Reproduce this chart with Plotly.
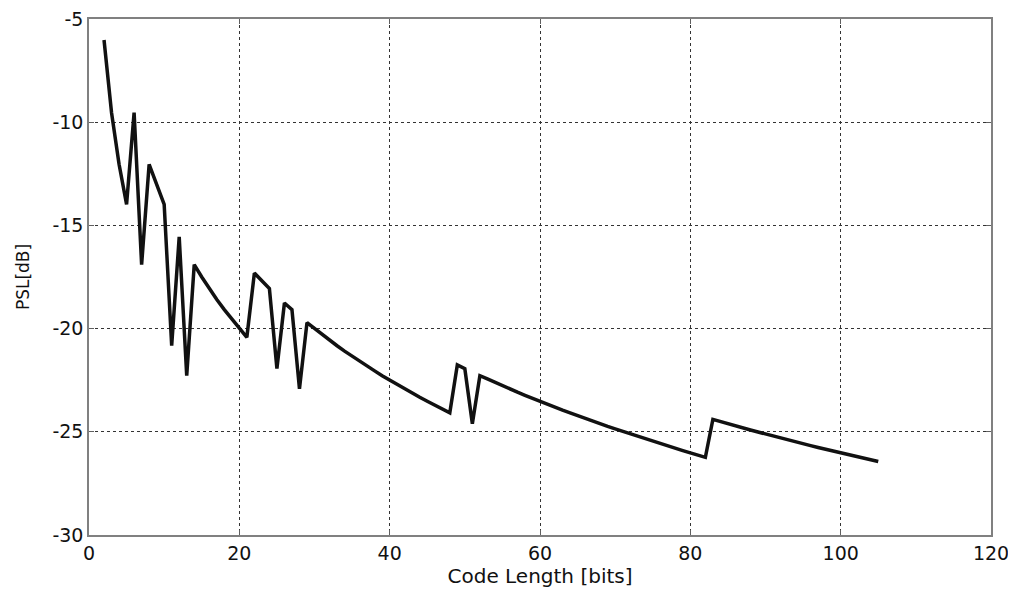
import plotly.graph_objects as go

code_length = list(range(2, 106))
psl_db = [
    -6.02, -9.54, -12.04, -13.98, -9.54, -16.90, -12.04, -13.06, -13.98, -20.83,
    -15.56, -22.28, -16.90, -17.50, -18.06, -18.59, -19.08, -19.55, -20.00, -20.42,
    -17.31, -17.69, -18.06, -21.94, -18.76, -19.08, -22.92, -19.71, -20.00, -20.28,
    -20.56, -20.83, -21.09, -21.34, -21.58, -21.82, -22.05, -22.28, -22.50, -22.71,
    -22.92, -23.13, -23.33, -23.52, -23.71, -23.90, -24.08, -21.76, -21.94, -24.61,
    -22.28, -22.44, -22.61, -22.77, -22.92, -23.08, -23.23, -23.38, -23.52, -23.67,
    -23.81, -23.95, -24.08, -24.22, -24.35, -24.48, -24.61, -24.74, -24.86, -24.98,
    -25.11, -25.23, -25.34, -25.46, -25.58, -25.69, -25.80, -25.91, -26.02, -26.13,
    -26.24, -24.40, -24.51, -24.61, -24.71, -24.81, -24.91, -25.01, -25.11, -25.20,
    -25.30, -25.39, -25.48, -25.58, -25.67, -25.76, -25.85, -25.93, -26.02, -26.11,
    -26.19, -26.28, -26.36, -26.44,
]
x_ticks = [0, 20, 40, 60, 80, 100, 120]
x_labels = ["0", "20", "40", "60", "80", "100", "120"]
y_ticks = [-30, -25, -20, -15, -10, -5]
y_labels = ["-30", "-25", "-20", "-15", "-10", "-5"]

font_main = "DejaVu Sans, Verdana, Arial"

fig = go.Figure()
fig.add_trace(go.Scatter(x=code_length, y=psl_db, mode="lines",
                         line=dict(color="#111111", width=3.5), showlegend=False))

axis_common = dict(
    showline=True, linecolor="#808080", linewidth=1.5, mirror="ticks",
    ticks="inside", ticklen=5, tickcolor="#606060",
    showgrid=True, gridcolor="#333333", gridwidth=1, griddash="dot",
    zeroline=False, automargin=False, ticklabeloverflow="allow",
    tickfont=dict(family=font_main, size=19, color="#111111"),
)
fig.update_xaxes(range=[0, 120], tickvals=x_ticks, ticktext=x_labels, **axis_common,
                 title=dict(text="Code Length [bits]", font=dict(family=font_main, size=20, color="#111111"), standoff=4))
fig.update_yaxes(range=[-30, -5], tickvals=y_ticks, ticktext=y_labels, **axis_common,
                 title=dict(text="PSL[dB]", font=dict(family=font_main, size=17, color="#111111"), standoff=18))
fig.update_layout(
    width=1008, height=581,
    margin=dict(l=81, r=25, t=11, b=54),
    paper_bgcolor="white", plot_bgcolor="white",
)
fig.write_html("out.html")
